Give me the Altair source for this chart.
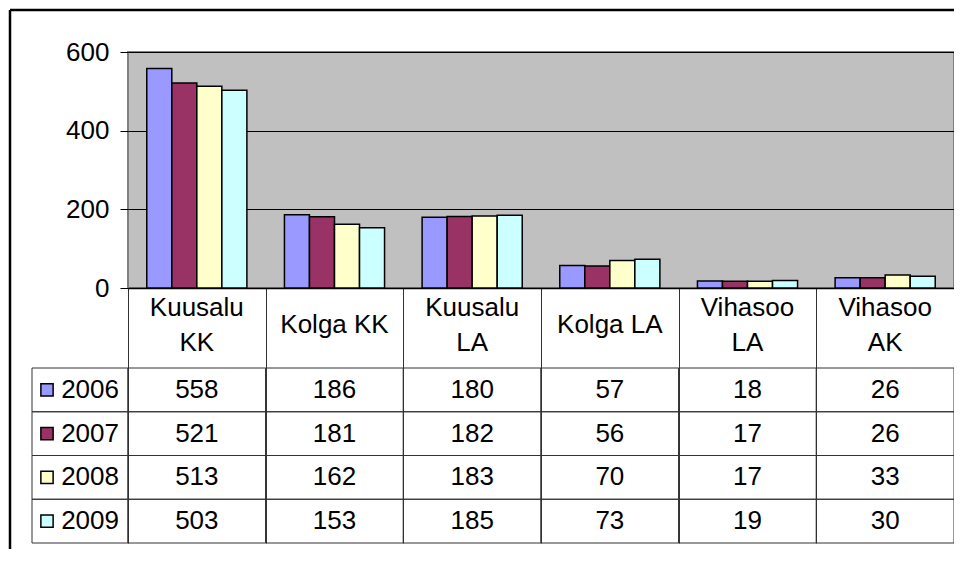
import altair as alt
import pandas as pd

categories = ["Kuusalu KK", "Kolga KK", "Kuusalu LA", "Kolga LA", "Vihasoo LA", "Vihasoo AK"]
header_labels = ["Kuusalu\nKK", "Kolga KK", "Kuusalu\nLA", "Kolga LA", "Vihasoo\nLA", "Vihasoo\nAK"]
years = ["2006", "2007", "2008", "2009"]
v2006 = [558, 186, 180, 57, 18, 26]
v2007 = [521, 181, 182, 56, 17, 26]
v2008 = [513, 162, 183, 70, 17, 33]
v2009 = [503, 153, 185, 73, 19, 30]
colors = ["#9999FF", "#993366", "#FFFFCC", "#CCFFFF"]
y_ticks = [0, 200, 400, 600]

series = {"2006": v2006, "2007": v2007, "2008": v2008, "2009": v2009}
rows = []
for y in years:
    for c, v in zip(categories, series[y]):
        rows.append({"cat": c, "year": y, "value": v})
df = pd.DataFrame(rows)
hdr = pd.DataFrame({"cat": categories, "label": header_labels})
hdr["multi"] = hdr["label"].str.contains("\n")
yrs = pd.DataFrame({"year": years})

FONT = "Liberation Sans"
FS = 26

xaxis = alt.Axis(title=None, labels=False, domain=True, domainColor="black", domainWidth=1.5,
                 ticks=True, tickBand="extent", tickSize=255, tickColor="#333333", tickWidth=1,
                 grid=False)
X = alt.X("cat:N", scale=alt.Scale(domain=categories, paddingInner=0, paddingOuter=0), axis=xaxis)
ytable = alt.Y("year:N", scale=alt.Scale(domain=years, range=[316, 491], paddingInner=0, paddingOuter=0), axis=None)
color = alt.Color("year:N", scale=alt.Scale(domain=years, range=colors), legend=None)

bars = alt.Chart(df).mark_bar(stroke="black", strokeWidth=1.5).encode(
    x=X,
    xOffset=alt.XOffset("year:N", scale=alt.Scale(domain=years, paddingInner=0, paddingOuter=0.75)),
    y=alt.Y("value:Q", scale=alt.Scale(domain=[0, 600], nice=False),
            axis=alt.Axis(title=None, values=y_ticks, tickSize=8, tickColor="black", domain=False,
                          labelFontSize=FS, labelFont=FONT, labelColor="black", labelPadding=11,
                          grid=True, gridColor="black", gridWidth=1)),
    color=color,
)

cells = alt.Chart(df).mark_rect(fillOpacity=0, stroke="#333333", strokeWidth=1).encode(
    x=X, y=ytable)

legend_cells = alt.Chart(yrs).mark_rect(fillOpacity=0, stroke="#333333", strokeWidth=1).encode(
    x=alt.value(-96), x2=alt.value(0), y=ytable)

swatches = alt.Chart(yrs).mark_point(shape="square", size=150, filled=True, opacity=1,
                                     stroke="black", strokeWidth=1.5).encode(
    x=alt.value(-81), y=ytable, color=color)

legend_text = alt.Chart(yrs).mark_text(align="right", baseline="middle", fontSize=FS, font=FONT,
                                       color="black").encode(
    x=alt.value(-9), y=ytable, text="year:N")

value_text = alt.Chart(df).mark_text(align="center", baseline="middle", fontSize=FS, font=FONT,
                                     color="black").encode(
    x=X, y=ytable, text="value:Q")

header_single = alt.Chart(hdr).transform_filter("!datum.multi").mark_text(
    align="center", baseline="middle", fontSize=FS, font=FONT, color="black").encode(
    x=X, y=alt.value(273), text="label:N")

header_multi = alt.Chart(hdr).transform_filter("datum.multi").mark_text(
    align="center", baseline="middle", fontSize=FS, font=FONT, color="black",
    lineBreak="\n", lineHeight=35).encode(
    x=X, y=alt.value(256), text="label:N")

frame_data = alt.Data(values=[{"a": 1}])
frame_top = alt.Chart(frame_data).mark_rule(color="black", strokeWidth=2.5).encode(
    x=alt.value(-118), x2=alt.value(840), y=alt.value(-42))
frame_left = alt.Chart(frame_data).mark_rule(color="black", strokeWidth=2.5).encode(
    x=alt.value(-118), y=alt.value(-42), y2=alt.value(520))

chart = alt.layer(
    bars, cells, legend_cells, swatches, legend_text, value_text,
    header_single, header_multi, frame_top, frame_left
).resolve_scale(y="independent").properties(
    width=826, height=236,
    autosize=alt.AutoSizeParams(type="none"),
    padding={"left": 120, "top": 44, "right": 0, "bottom": 261},
    background="white",
).configure_view(fill="#C0C0C0", stroke="#808080", strokeWidth=2)

chart.save("out.html", embed_options={"renderer": "svg", "actions": False})
